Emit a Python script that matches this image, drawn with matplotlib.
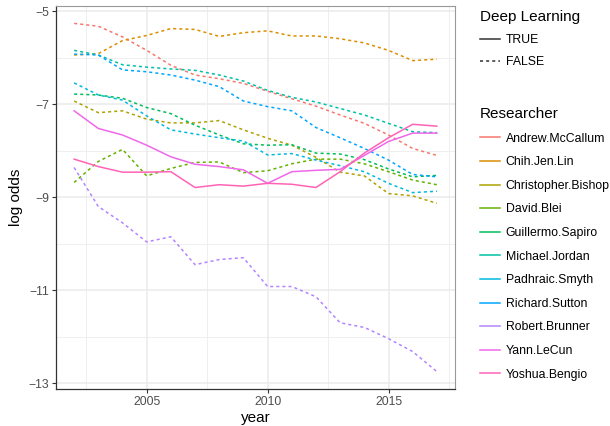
import numpy as np
import matplotlib
matplotlib.use("Agg")
import matplotlib.pyplot as plt
from matplotlib.lines import Line2D

plt.rcParams['font.family'] = ['Liberation Sans', 'DejaVu Sans']

# yearly log odds per researcher
years = list(range(2002, 2018))

researchers = ["Andrew.McCallum", "Chih.Jen.Lin", "Christopher.Bishop", "David.Blei",
               "Guillermo.Sapiro", "Michael.Jordan", "Padhraic.Smyth", "Richard.Sutton",
               "Robert.Brunner", "Yann.LeCun", "Yoshua.Bengio"]
deep_learning = [False, False, False, False, False, False, False, False, False, True, True]

mccallum = [-5.26, -5.32, -5.55, -5.84, -6.16, -6.37, -6.45, -6.55, -6.72, -6.88, -7.04, -7.23, -7.41, -7.66, -7.95, -8.10]
lin = [-5.94, -5.91, -5.63, -5.52, -5.37, -5.39, -5.54, -5.46, -5.42, -5.53, -5.53, -5.59, -5.68, -5.84, -6.06, -6.03]
bishop = [-6.93, -7.18, -7.14, -7.32, -7.40, -7.40, -7.35, -7.55, -7.73, -7.88, -8.14, -8.46, -8.54, -8.92, -8.97, -9.13]
blei = [-8.68, -8.23, -7.97, -8.54, -8.38, -8.25, -8.24, -8.47, -8.43, -8.28, -8.18, -8.18, -8.28, -8.45, -8.63, -8.73]
sapiro = [-6.78, -6.80, -6.87, -7.07, -7.20, -7.45, -7.66, -7.85, -7.88, -7.87, -8.05, -8.07, -8.19, -8.39, -8.56, -8.53]
jordan = [-5.84, -5.94, -6.15, -6.20, -6.24, -6.27, -6.37, -6.50, -6.70, -6.85, -6.95, -7.09, -7.23, -7.41, -7.59, -7.61]
smyth = [-6.54, -6.80, -6.91, -7.25, -7.55, -7.64, -7.72, -7.79, -8.09, -8.06, -8.20, -8.32, -8.45, -8.70, -8.90, -8.87]
sutton = [-5.92, -5.94, -6.26, -6.30, -6.37, -6.48, -6.62, -6.93, -7.05, -7.14, -7.50, -7.72, -7.95, -8.20, -8.51, -8.56]
brunner = [-8.36, -9.20, -9.55, -9.96, -9.85, -10.45, -10.34, -10.30, -10.92, -10.92, -11.14, -11.70, -11.80, -12.04, -12.32, -12.75]
lecun = [-7.14, -7.52, -7.66, -7.88, -8.13, -8.29, -8.34, -8.41, -8.70, -8.45, -8.42, -8.40, -8.10, -7.80, -7.62, -7.62]
bengio = [-8.18, -8.34, -8.46, -8.46, -8.45, -8.79, -8.73, -8.76, -8.70, -8.72, -8.79, -8.45, -8.05, -7.72, -7.43, -7.47]

series = [mccallum, lin, bishop, blei, sapiro, jordan, smyth, sutton, brunner, lecun, bengio]

# ggplot2 default hue palette for 11 levels
colors = ["#F8766D", "#DB8E00", "#AEA200", "#64B200", "#00BD5C", "#00C1A7",
          "#00BADE", "#00A6FF", "#B385FF", "#EF67EB", "#FF63B6"]

fig = plt.figure(figsize=(6.1, 4.26), dpi=100)
ax = fig.add_axes([56 / 610, 1 - 389 / 426, (455 - 56) / 610, (389 - 6) / 426])

lw = 1.1
for vals, col, dl in zip(series, colors, deep_learning):
    if dl:
        ax.plot(years, vals, color=col, lw=lw, solid_joinstyle='round', zorder=3)
    else:
        ax.plot(years, vals, color=col, lw=lw, dashes=(2, 2), zorder=3)

# ggplot-like 5% expansion
allv = np.concatenate([np.array(s) for s in series])
ylo, yhi = allv.min(), allv.max()
ypad = (yhi - ylo) * 0.05
ax.set_ylim(ylo - ypad, yhi + ypad)
xpad = (years[-1] - years[0]) * 0.05
ax.set_xlim(years[0] - xpad, years[-1] + xpad)

ax.set_xticks([2005, 2010, 2015])
ax.set_xticks([2002.5, 2007.5, 2012.5, 2017.5], minor=True)
ax.set_yticks([-13, -11, -9, -7, -5])
ax.set_yticks([-12, -10, -8, -6], minor=True)
ax.grid(True, which='major', color='#ebebeb', lw=1.1, zorder=0)
ax.grid(True, which='minor', color='#ebebeb', lw=0.55, zorder=0)
ax.set_axisbelow(True)
ax.tick_params(which='major', length=3, width=0.8, color='#333333', labelsize=8.8,
               labelcolor='#4d4d4d', pad=2)
ax.tick_params(which='minor', length=0)
for side in ['top', 'right']:
    ax.spines[side].set_color('#999999')
    ax.spines[side].set_linewidth(0.8)
for side in ['left', 'bottom']:
    ax.spines[side].set_color('#333333')
    ax.spines[side].set_linewidth(0.9)

ax.set_xlabel('year', fontsize=11, labelpad=2)
ax.set_ylabel('log odds', fontsize=11, labelpad=4)

# legends
lt_handles = [Line2D([], [], color='#333333', lw=lw),
              Line2D([], [], color='#333333', lw=lw, dashes=(2, 2))]
leg1 = fig.legend(lt_handles, ['TRUE', 'FALSE'], title='Deep Learning',
                  loc='upper left', bbox_to_anchor=(480 / 610, 1 - 10 / 426),
                  frameon=False, fontsize=8.8, title_fontsize=11, alignment='left',
                  handlelength=1.6, handletextpad=0.5, labelspacing=0.82,
                  borderpad=0, borderaxespad=0)

r_handles = [Line2D([], [], color=c, lw=lw) for c in colors]
leg2 = fig.legend(r_handles, researchers, title='Researcher',
                  loc='upper left', bbox_to_anchor=(480 / 610, 1 - 107 / 426),
                  frameon=False, fontsize=8.8, title_fontsize=11, alignment='left',
                  handlelength=1.6, handletextpad=0.5, labelspacing=0.95,
                  borderpad=0, borderaxespad=0)

fig.savefig('out.png', dpi=100)
